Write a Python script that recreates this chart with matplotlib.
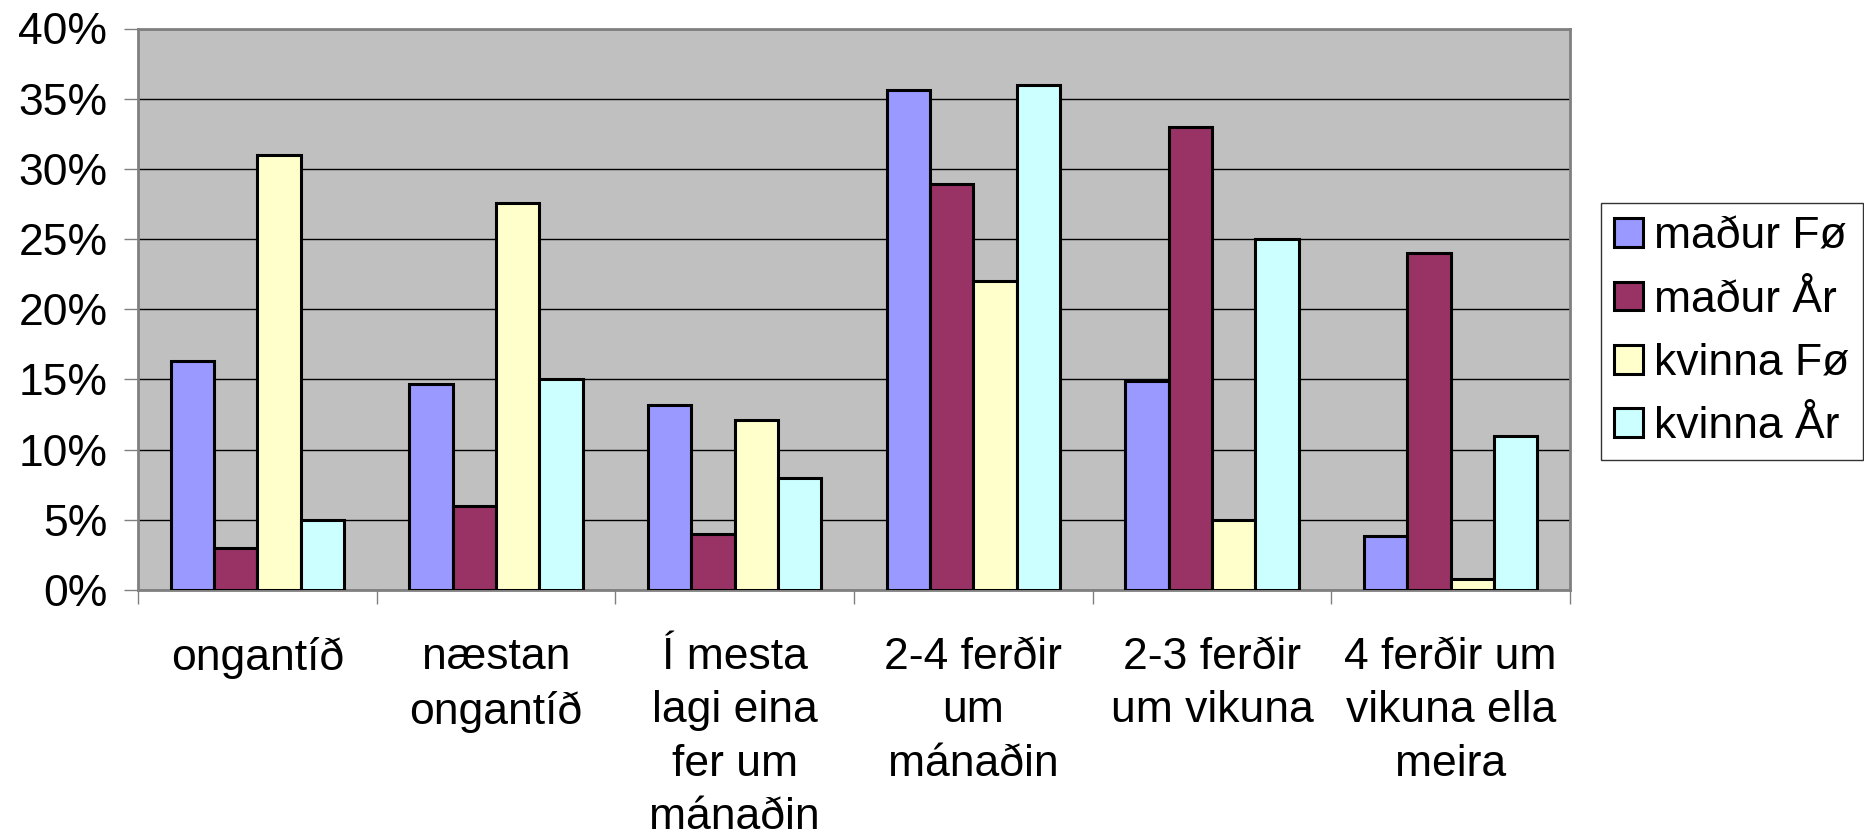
import matplotlib.pyplot as plt
import numpy as np
from matplotlib.ticker import PercentFormatter

plt.rcParams['font.family'] = ['Liberation Sans', 'DejaVu Sans']

# data (percent)
categories = ["ongantíð", "næstan\nongantíð", "Í mesta\nlagi eina\nfer um\nmánaðin",
              "2-4 ferðir\num\nmánaðin", "2-3 ferðir\num vikuna", "4 ferðir um\nvikuna ella\nmeira"]
series_names = ["maður Fø", "maður År", "kvinna Fø", "kvinna År"]
madur_fo = [16.3, 14.7, 13.2, 35.6, 14.9, 3.85]
madur_ar = [3.0, 6.0, 4.0, 28.9, 33.0, 24.0]
kvinna_fo = [31.0, 27.6, 12.1, 22.0, 5.0, 0.8]
kvinna_ar = [5.0, 15.0, 8.0, 36.0, 25.0, 11.0]
colors = ["#9999FF", "#993366", "#FFFFCC", "#CCFFFF"]

FONTSIZE = 32

fig = plt.figure(figsize=(18.65, 8.35), dpi=100)
ax = fig.add_axes([138 / 1865, 1 - 590 / 835, (1570 - 138) / 1865, (590 - 28.5) / 835])
ax.set_facecolor("#C0C0C0")

x = np.arange(len(categories))
w = 1 / 5.5
for i, vals in enumerate([madur_fo, madur_ar, kvinna_fo, kvinna_ar]):
    ax.bar(x + (i - 1.5) * w, vals, w, color=colors[i], edgecolor="black",
           linewidth=2.2, label=series_names[i], zorder=3)

ax.set_ylim(0, 40)
ax.set_xlim(-0.5, len(categories) - 0.5)
ax.set_yticks(np.arange(0, 41, 5))
ax.yaxis.set_major_formatter(PercentFormatter(decimals=0))
ax.grid(axis="y", color="black", linewidth=1, zorder=1)

# category labels between boundary ticks
ax.set_xticks(np.arange(-0.5, len(categories)), minor=False)
ax.set_xticklabels([])
ax.set_xticks(x, minor=True)
ax.set_xticklabels(categories, minor=True, fontsize=FONTSIZE, linespacing=1.38)
ax.tick_params(axis="x", which="minor", length=0, pad=34)
ax.tick_params(axis="x", which="major", length=10, width=1, color="#808080")
ax.tick_params(axis="y", length=10, width=1, color="#808080", labelsize=FONTSIZE, pad=12)

for s in ax.spines.values():
    s.set_color("#808080")
    s.set_linewidth(2)

leg = fig.legend(loc="upper left", bbox_to_anchor=(1601 / 1865, 1 - 203 / 835),
                 fontsize=FONTSIZE, frameon=True, fancybox=False, edgecolor="black",
                 handlelength=0.65, handleheight=0.62, handletextpad=0.25,
                 labelspacing=0.5, borderpad=0.3, borderaxespad=0)
leg.get_frame().set_linewidth(1)
for h in leg.legend_handles:
    h.set_linewidth(2.2)

fig.savefig("out.png", dpi=100)
